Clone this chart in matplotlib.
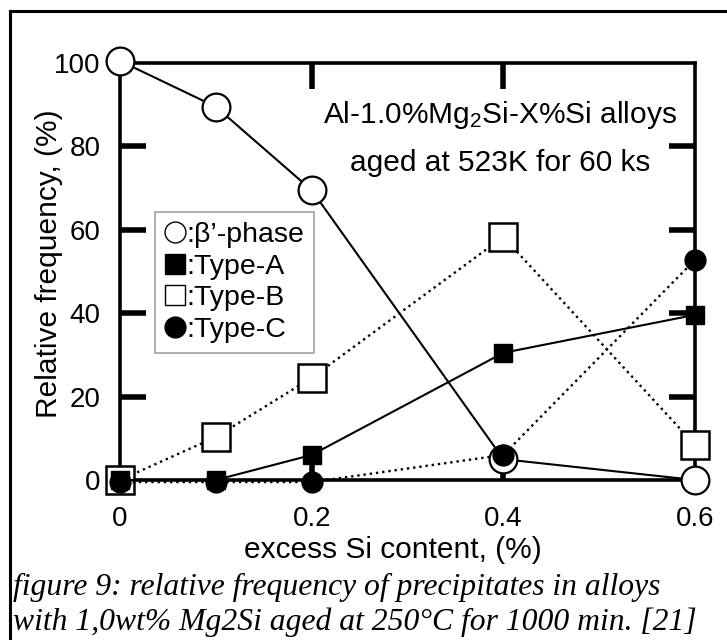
import matplotlib
matplotlib.use("Agg")
import matplotlib.pyplot as plt
from matplotlib.lines import Line2D

plt.rcParams["font.family"] = ["Liberation Sans", "DejaVu Sans"]
plt.rcParams["mathtext.fontset"] = "custom"
plt.rcParams["mathtext.rm"] = "Liberation Sans"
plt.rcParams["mathtext.it"] = "Liberation Sans:italic"

# excess Si content (%) and relative frequency (%) of each precipitate
si_content = [0.0, 0.1, 0.2, 0.4, 0.6]
beta_phase = [100.5, 89.5, 69.5, 5.0, 0.0]
type_a = [0.0, 0.0, 6.0, 30.5, 39.6]
type_b = [0.0, 10.3, 24.5, 58.3, 8.4]
type_c = [-0.5, -0.5, -0.5, 6.0, 52.8]

x_ticks = [0, 0.2, 0.4, 0.6]
x_tick_labels = ["0", "0.2", "0.4", "0.6"]
y_ticks = [0, 20, 40, 60, 80, 100]

W, H = 727, 640
fig = plt.figure(figsize=(W / 100, H / 100), dpi=100)
fig.patch.set_facecolor("white")
ax = fig.add_axes([120 / W, 1 - 480 / H, 575 / W, 417 / H])

# open markers first so the filled ones sit on top
ax.plot(si_content, beta_phase, "-", color="black", lw=1.5, marker="o", ms=20,
        mfc="white", mec="black", mew=1.6, clip_on=False, zorder=4)
ax.plot(si_content, type_b, ":", color="black", lw=1.7, marker="s", ms=20,
        mfc="white", mec="black", mew=1.8, clip_on=False, zorder=5)
ax.plot(si_content, type_a, "-", color="black", lw=1.5, marker="s", ms=13,
        mfc="black", mec="black", clip_on=False, zorder=6)
ax.plot(si_content, type_c, ":", color="black", lw=1.7, marker="o", ms=15,
        mfc="black", mec="black", clip_on=False, zorder=7)

ax.set_xlim(0, 0.6)
ax.set_ylim(0, 100)
ax.set_xticks(x_ticks)
ax.set_xticklabels(x_tick_labels)
ax.set_yticks(y_ticks)
ax.tick_params(direction="in", length=19, width=4, top=True, right=True,
               labelsize=20, color="black")
ax.tick_params(axis="x", pad=19)
ax.tick_params(axis="y", pad=14)
for s in ax.spines.values():
    s.set_linewidth(2.6)

# no tick marks on the corners
for t in ax.xaxis.get_major_ticks()[::3] + ax.yaxis.get_major_ticks()[::5]:
    t.tick1line.set_visible(False)
    t.tick2line.set_visible(False)

ax.set_xlabel("excess Si content, (%)", fontsize=21.5)
ax.xaxis.label.set_verticalalignment("baseline")
ax.xaxis.set_label_coords(0.475, -0.187)
ax.set_ylabel("Relative frequency, (%)", fontsize=21.5)
ax.yaxis.label.set_verticalalignment("baseline")
ax.yaxis.set_label_coords(-0.11, 0.518)

ax.text(0.661, 0.875, r"Al-1.0%Mg$_2$Si-X%Si alloys", transform=ax.transAxes,
        ha="center", va="center", fontsize=21.5)
ax.text(0.661, 0.76, "aged at 523K for 60 ks", transform=ax.transAxes,
        ha="center", va="center", fontsize=21.5)

handles = [
    Line2D([], [], ls="none", marker="o", ms=15, mfc="white", mec="black", mew=1.0),
    Line2D([], [], ls="none", marker="s", ms=14, mfc="black", mec="black"),
    Line2D([], [], ls="none", marker="s", ms=14, mfc="white", mec="black", mew=1.0),
    Line2D([], [], ls="none", marker="o", ms=15, mfc="black", mec="black"),
]
labels = [":β’-phase", ":Type-A", ":Type-B", ":Type-C"]
leg = ax.legend(handles, labels, loc="upper left", bbox_to_anchor=(0.061, 0.643),
                fontsize=20.5, frameon=True, fancybox=False, handlelength=0.7,
                handletextpad=0.05, borderpad=0.35, labelspacing=0.2,
                borderaxespad=0)
leg.get_frame().set_edgecolor("#888888")
leg.get_frame().set_linewidth(1.2)
leg.set_zorder(3)

# page frame and caption
fig.add_artist(Line2D([10 / W, 10 / W], [0, 1 - 11 / H], color="black", lw=2.2))
fig.add_artist(Line2D([10 / W, 1], [1 - 11 / H, 1 - 11 / H], color="black", lw=2.2))
cap = dict(family="Liberation Serif", style="italic", fontsize=22.8, va="baseline")
fig.text(13 / W, 1 - 595 / H, "figure 9: relative frequency of precipitates in alloys", **cap)
fig.text(13 / W, 1 - 630 / H, "with 1,0wt% Mg2Si aged at 250°C for 1000 min. [21]", **cap)

fig.savefig("out.png", dpi=100, facecolor="white")
